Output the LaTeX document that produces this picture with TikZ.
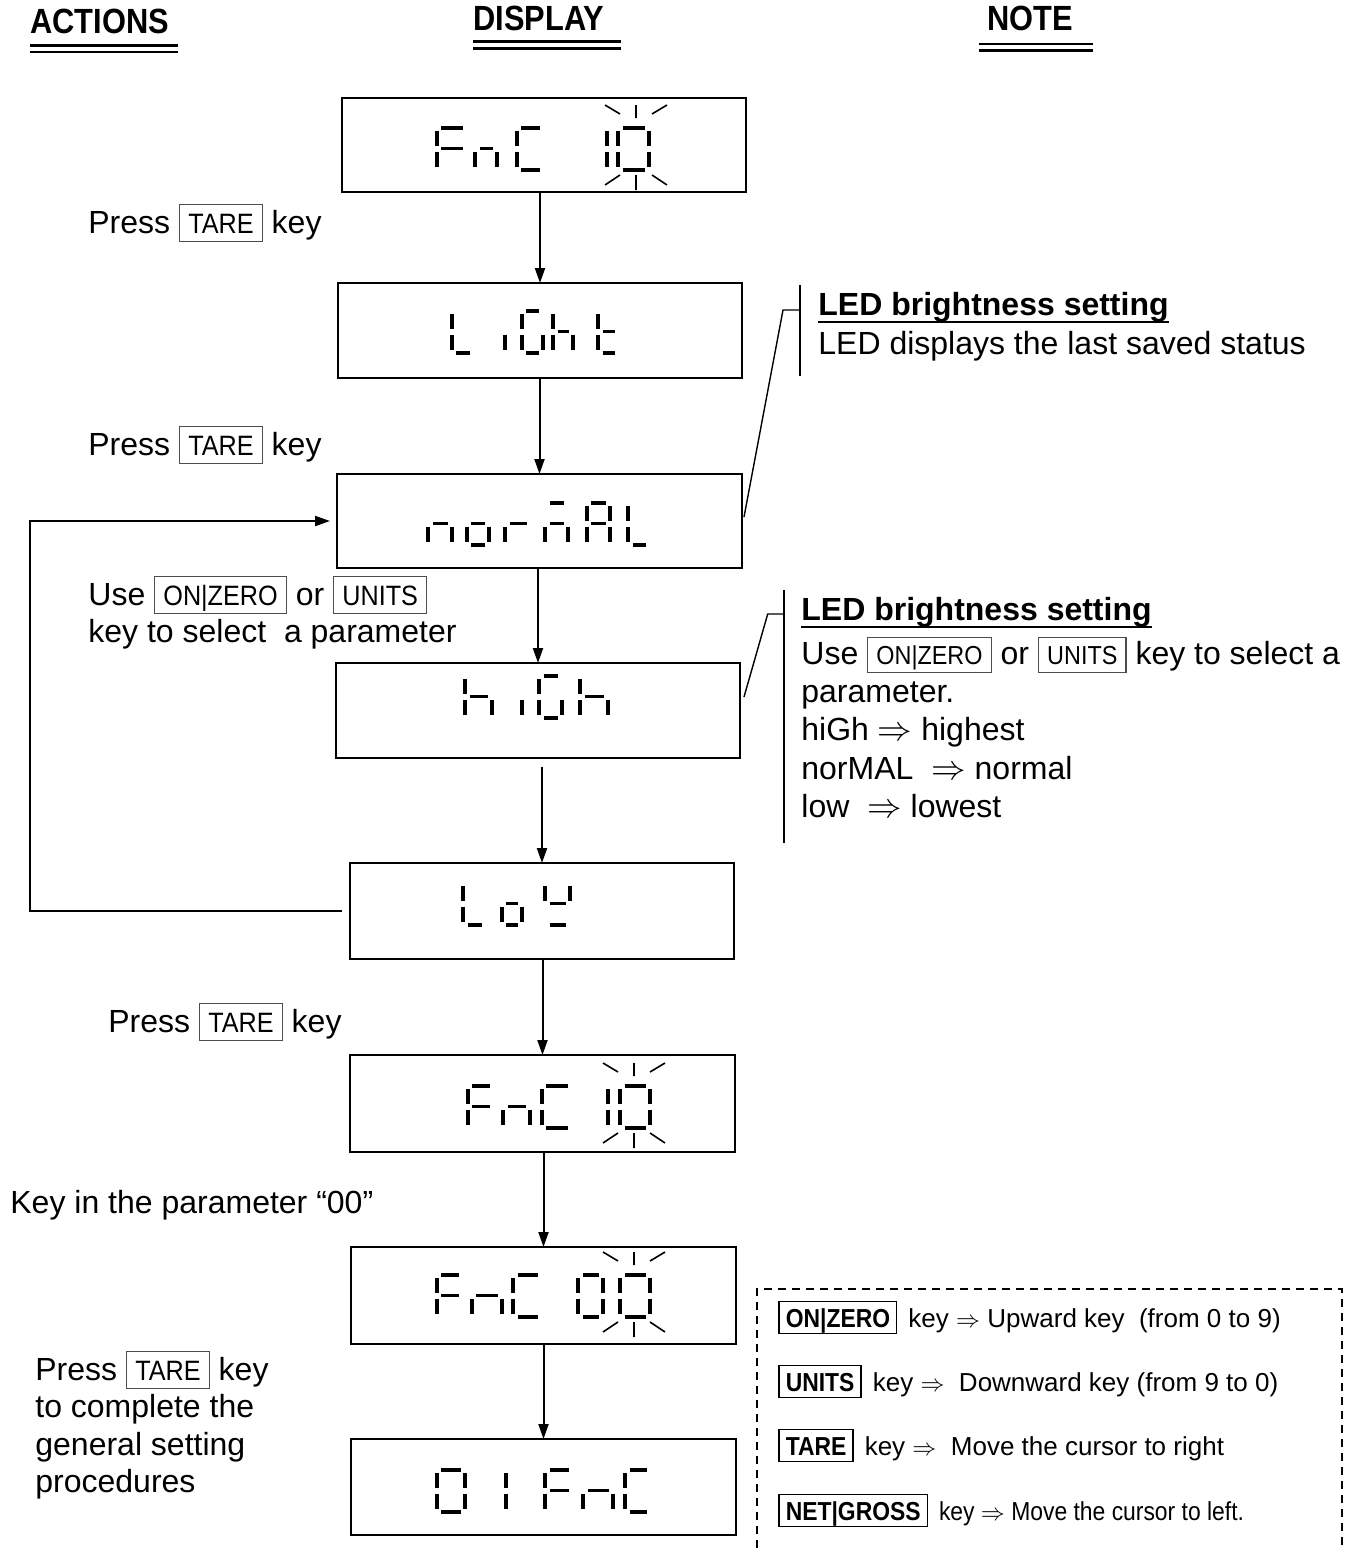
\documentclass[tikz,border=0pt]{standalone}
\usepackage{fontspec}
\setmainfont{Liberation Sans}
\newfontfamily\keyfont{Liberation Sans}[FakeStretch=0.9]
\newfontfamily\condfont{Liberation Sans}[FakeStretch=0.88]
\usepackage{tikz}
\usetikzlibrary{arrows.meta}
\definecolor{keyedge}{HTML}{4D4D4D}
\tikzset{
  dispbox/.style={draw=black,line width=0.8pt,inner sep=0pt,outer sep=0pt},
  ledseg/.style={line width=1.9pt},
  ledflash/.style={line width=0.8pt},
  flowedge/.style={-{Triangle[length=7.5pt,width=5pt]},line width=1pt},
  noteline/.style={line width=0.7pt},
  hdtext/.style={anchor=base west,inner sep=0pt,font=\condfont\bfseries\fontsize{17.5}{21}\selectfont},
  hdrule/.style={line width=1.4pt},
  acttext/.style={anchor=base west,inner sep=0pt,font=\fontsize{16}{18.8}\selectfont},
  notehead/.style={anchor=base west,inner sep=0pt,font=\bfseries\fontsize{16}{19.2}\selectfont},
  notetext/.style={acttext,font=\fontsize{16}{19.2}\selectfont},
  legtext/.style={anchor=base west,inner sep=0pt,font=\fontsize{13}{15.6}\selectfont},
  legframe/.style={line width=1pt,dash pattern=on 4pt off 3pt},
}
% key caps written inside the texts
\newcommand\keycap[2][14]{{\setlength\fboxsep{4pt}\setlength\fboxrule{0.6pt}%
  \fcolorbox{keyedge}{white}{\keyfont\fontsize{#1}{#1}\selectfont\raisebox{0pt}[0.7em][0pt]{#2}}}}
\newcommand\legkey[1]{{\setlength\fboxsep{3pt}\setlength\fboxrule{0.7pt}%
  \fbox{\condfont\bfseries\fontsize{13}{13}\selectfont\raisebox{0pt}[0.72em][0pt]{#1}}}}
% text block whose baseline is its first line
\newcommand\textlines[1]{\begin{tabular}[t]{@{}l@{}}#1\end{tabular}}
% seven segment glyphs: left x, top y, width, segments
\def\ledpatha#1{(4.5,0) -- (#1-4,0)}
\def\ledpathb#1{(#1,3) -- (#1,17.5)}
\def\ledpathc#1{(#1,23.5) -- (#1,38.5)}
\def\ledpathd#1{(4.5,42) -- (#1-4,42)}
\def\ledpathe#1{(0,23.5) -- (0,38.5)}
\def\ledpathf#1{(0,3) -- (0,17.5)}
\def\ledpathg#1{(4.5,20.5) -- (#1-4,20.5)}
\newcommand\ledglyph[4]{%
  \begin{scope}[shift={(#1,#2)}]
    \foreach \sg in {#4}{\draw[ledseg] \csname ledpath\sg\endcsname{#3};}
  \end{scope}}
\newcommand\ledflash[2]{%
  \draw[ledflash] (#1,#2-23) -- (#1,#2-10)
    (#1-31,#2-23) -- (#1-16,#2-14) (#1+16,#2-14) -- (#1+31,#2-23)
    (#1,#2+47) -- (#1,#2+62)
    (#1-31,#2+57) -- (#1-16,#2+47) (#1+16,#2+47) -- (#1+31,#2+57);}

\begin{document}
\begin{tikzpicture}[x=0.5pt,y=-0.5pt]
  \useasboundingbox (0,0) rectangle (1359,1548);
  % column heads
  \node[hdtext] (hAct) at (30,33.5) {ACTIONS};
  \node[hdtext] (hDisp) at (473,30.5) {DISPLAY};
  \node[hdtext] (hNote) at (987,30.5) {NOTE};
  \draw[hdrule] (30,45.5) -- (178,45.5) (30,52) -- (178,52);
  \draw[hdrule] (473,41.7) -- (621,41.7) (473,48.3) -- (621,48.3);
  \draw[hdrule] (979,44) -- (1093,44) (979,50.5) -- (1093,50.5);

  % displays
  \node[dispbox,minimum width=202pt,minimum height=47pt] (nFnc) at (544,145) {};
  \node[dispbox,minimum width=202pt,minimum height=47.5pt] (nLight) at (540,330.5) {};
  \node[dispbox,minimum width=202.5pt,minimum height=47pt] (nNormal) at (539.5,521) {};
  \node[dispbox,minimum width=202pt,minimum height=47.5pt] (nHigh) at (538,710.5) {};
  \node[dispbox,minimum width=192pt,minimum height=48pt] (nLow) at (542,911) {};
  \node[dispbox,minimum width=192.5pt,minimum height=48.5pt] (nFncB) at (542.5,1103.5) {};
  \node[dispbox,minimum width=192.5pt,minimum height=48.5pt] (nFncZero) at (543.5,1295.5) {};
  \node[dispbox,minimum width=192.5pt,minimum height=48pt] (nDone) at (543.5,1487) {};

  % FnC 10
  \ledglyph{436.7}{128}{30}{a,f,e,g}
  \ledglyph{475}{128}{22.3}{e,g,c}
  \ledglyph{516.7}{128}{27}{a,f,e,d}
  \ledglyph{606.7}{128}{0}{f,e}
  \ledglyph{618.3}{128}{31}{a,b,c,d,e,f}
  \ledflash{636}{128}
  % LiGht
  \ledglyph{451.7}{311}{22}{f,e,d}
  \ledglyph{505}{311}{0}{e}
  \ledglyph{521.7}{311}{21}{a,f,e,d,c}
  \ledglyph{553.3}{311}{20}{f,e,g,c}
  \ledglyph{598.3}{311}{21}{f,e,g,d}
  % norMAL
  \ledglyph{428.3}{503}{23.4}{e,g,c}
  \ledglyph{466.7}{503}{22.6}{e,g,c,d}
  \ledglyph{505}{503}{25.7}{e,g}
  \ledglyph{545}{503}{23.3}{a,e,g,c}
  \ledglyph{586.7}{503}{23.3}{a,b,c,e,f,g}
  \ledglyph{628.3}{503}{22}{f,e,d}
  % hiGh
  \ledglyph{465}{676}{26.7}{f,e,g,c}
  \ledglyph{521.7}{676}{0}{e}
  \ledglyph{539.3}{676}{22.4}{a,f,e,d,c}
  \ledglyph{580}{676}{28.3}{f,e,g,c}
  % LoY
  \ledglyph{463.3}{883}{23}{f,e,d}
  \ledglyph{501.7}{883}{20}{e,g,c,d}
  \ledglyph{545}{883}{25}{f,b,g,d}
  % FnC 10 again
  \ledglyph{467.7}{1086}{26}{a,f,e,g}
  \ledglyph{503.3}{1086}{26.7}{e,g,c}
  \ledglyph{541.7}{1086}{30}{a,f,e,d}
  \ledglyph{608.3}{1086}{0}{f,e}
  \ledglyph{620}{1086}{30}{a,b,c,d,e,f}
  \ledflash{634}{1086}
  % FnC 00
  \ledglyph{436.7}{1275}{26}{a,f,e,g}
  \ledglyph{471.7}{1275}{30}{e,g,c}
  \ledglyph{513.3}{1275}{28.7}{a,f,e,d}
  \ledglyph{578.3}{1275}{25}{a,b,c,d,e,f}
  \ledglyph{620}{1275}{30}{a,b,c,d,e,f}
  \ledflash{634}{1275}
  % 01FnC
  \ledglyph{436.7}{1470}{28.3}{a,b,c,d,e,f}
  \ledglyph{505.7}{1470}{0}{f,e}
  \ledglyph{545}{1470}{28.3}{a,f,e,g}
  \ledglyph{583.3}{1470}{30}{e,g,c}
  \ledglyph{625}{1470}{25.7}{a,f,e,d}

  % flow
  \draw[flowedge] (nFnc.south -| nLight.north) -- (nLight.north);
  \draw[flowedge] (nLight.south -| nNormal.north) -- (nNormal.north);
  \draw[flowedge] (nNormal.south -| nHigh.north) -- (nHigh.north);
  \draw[flowedge,shorten <=4.5pt] (nHigh.south -| nLow.north) -- (nLow.north);
  \draw[flowedge] (nLow.south -| nFncB.north) -- (nFncB.north);
  \draw[flowedge] (nFncB.south -| nFncZero.north) -- (nFncZero.north);
  \draw[flowedge] (nFncZero.south -| nDone.north) -- (nDone.north);
  \coordinate (loopx) at (30,0);
  \draw[flowedge,shorten <=4pt,shorten >=3.5pt] (nLow.west) -- (nLow.west -| loopx) |- (nNormal.west);

  % actions
  \node[acttext] (aTareA) at (88,233) {Press \keycap{TARE} key};
  \node[acttext] (aTareB) at (88,455) {Press \keycap{TARE} key};
  \node[acttext] (aSelect) at (88,605) {\textlines{Use \keycap{ON|ZERO} or \keycap{UNITS}\\key to select\ \ a parameter}};
  \node[acttext] (aTareC) at (108,1032) {Press \keycap{TARE} key};
  \node[acttext] (aKeyIn) at (10,1213) {Key in the parameter “00”};
  \node[acttext] (aDone) at (35,1380) {\textlines{Press \keycap{TARE} key\\to complete the\\general setting\\procedures}};

  % notes
  \node[notehead] (nbA) at (818,315) {LED brightness setting};
  \draw[line width=1pt] ([yshift=-3.5pt]nbA.base west) -- ([yshift=-3.5pt]nbA.base east);
  \node[notetext] (ntA) at (818,354) {LED displays the last saved status};
  \coordinate (brA) at (800,285);
  \coordinate (tkA) at (783,310);
  \draw[noteline] (brA) -- ++(0,91);
  \draw[noteline] ([shift={(2,-4)}]nNormal.east) -- (tkA) -- (tkA -| brA);

  \node[notehead] (nbB) at (801,620) {LED brightness setting};
  \draw[line width=1pt] ([yshift=-3.5pt]nbB.base west) -- ([yshift=-3.5pt]nbB.base east);
  \node[notetext] (ntB) at (801,664) {\textlines{Use \keycap[13]{ON|ZERO} or \keycap[13]{UNITS} key to select a\\parameter.\\hiGh $\Rightarrow$ highest\\norMAL\ \ $\Rightarrow$ normal\\low\ \ $\Rightarrow$ lowest}};
  \coordinate (brB) at (784,590);
  \coordinate (tkB) at (767.7,614);
  \draw[noteline] (brB) -- ++(0,253);
  \draw[noteline] ([shift={(4,-13.5)}]nHigh.east) -- (tkB) -- (tkB -| brB);

  % key legend
  \draw[legframe] (757,1548) |- (1342,1289) -- (1342,1548);
  \node[legtext] (lgUp) at (778,1327) {\legkey{ON|ZERO}\hspace{5.5pt}key $\Rightarrow$ Upward key\ \ (from 0 to 9)};
  \node[legtext] (lgDown) at (778,1391) {\legkey{UNITS}\hspace{5.5pt}key $\Rightarrow$\ \ Downward key (from 9 to 0)};
  \node[legtext] (lgRight) at (778,1455) {\legkey{TARE}\hspace{5.5pt}key $\Rightarrow$\ \ Move the cursor to right};
  \node[legtext] (lgLeft) at (778,1520) {\legkey{NET|GROSS}\hspace{5.5pt}{\condfont key $\Rightarrow$ Move the cursor to left.}};
\end{tikzpicture}
\end{document}
